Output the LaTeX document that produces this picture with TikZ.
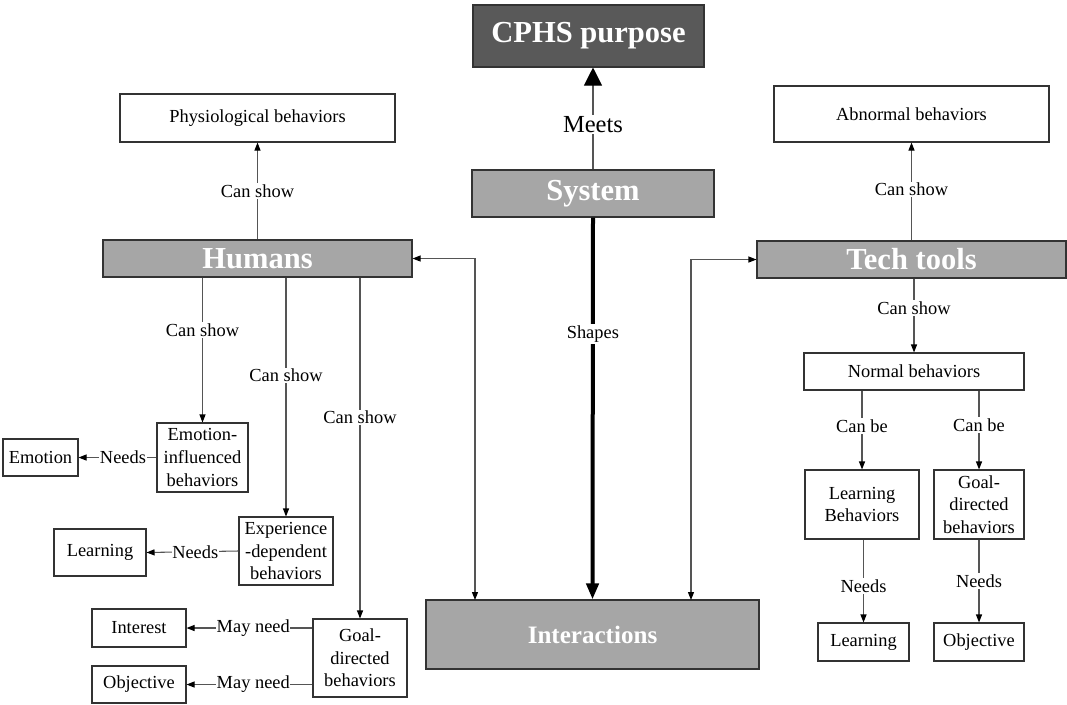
\documentclass[tikz,border=0pt]{standalone}
\usepackage{fontspec}
\setmainfont{Liberation Serif}
\usetikzlibrary{arrows.meta}
\definecolor{darkbox}{HTML}{595959}
\definecolor{midbox}{HTML}{A6A6A6}
\definecolor{edgecol}{HTML}{333333}
\definecolor{linecol}{HTML}{555555}
\begin{document}
\begin{tikzpicture}[x=0.75pt,y=-0.75pt,
  box/.style={draw=edgecol,line width=0.8pt,fill=white,inner sep=0pt,align=center,
    font=\fontsize{13.8pt}{16.9pt}\selectfont},
  bigbox/.style={draw=edgecol,line width=0.8pt,inner sep=0pt,align=center,text=white,
    font=\fontsize{22.9pt}{26pt}\selectfont\bfseries},
  lbl/.style={fill=white,inner sep=1pt,font=\fontsize{13.8pt}{16pt}\selectfont},
  arr/.style={draw=linecol,line width=0.8pt,-{Triangle[length=6pt,width=4.5pt,color=black]}},
  darr/.style={draw=linecol,line width=0.8pt,{Triangle[length=6pt,width=4.5pt,color=black]}-{Triangle[length=6pt,width=4.5pt,color=black]}}
]
\useasboundingbox (0,0) rectangle (1067,704);

% main boxes
\node[bigbox,fill=darkbox,minimum width=231*0.75pt,minimum height=62*0.75pt] (cphs) at (588.5,36) {CPHS purpose};
\node[bigbox,fill=midbox,minimum width=242*0.75pt,minimum height=47*0.75pt] (system) at (593,193.5) {System};
\node[bigbox,fill=midbox,minimum width=309*0.75pt,minimum height=37*0.75pt] (humans) at (257.5,258.5) {Humans};
\node[bigbox,fill=midbox,minimum width=309*0.75pt,minimum height=37*0.75pt] (tech) at (911.5,259.5) {Tech tools};
\node[bigbox,fill=midbox,minimum width=333*0.75pt,minimum height=69*0.75pt,font=\fontsize{18.8pt}{22pt}\selectfont\bfseries] (inter) at (592.5,634.5) {Interactions};

% white boxes
\node[box,minimum width=275*0.75pt,minimum height=48*0.75pt] (physio) at (257.5,118) {Physiological behaviors};
\node[box,minimum width=275*0.75pt,minimum height=56*0.75pt] (abn) at (911.5,114) {Abnormal behaviors};

\node[box,minimum width=91*0.75pt,minimum height=69*0.75pt] (emoinf) at (202.5,457.5) {Emotion-\\influenced\\behaviors};
\node[box,minimum width=75*0.75pt,minimum height=37*0.75pt] (emotion) at (40.5,457.5) {Emotion};
\node[box,minimum width=94*0.75pt,minimum height=68*0.75pt] (exper) at (286,551) {Experience\\-dependent\\behaviors};
\node[box,minimum width=92*0.75pt,minimum height=47*0.75pt] (learnL) at (100,552.5) {Learning};
\node[box,minimum width=94*0.75pt,minimum height=78*0.75pt] (goalL) at (360,658) {Goal-\\directed\\behaviors};
\node[box,minimum width=94*0.75pt,minimum height=38*0.75pt] (interest) at (139,628) {Interest};
\node[box,minimum width=94*0.75pt,minimum height=37*0.75pt] (objL) at (139,684.5) {Objective};

\node[box,minimum width=220*0.75pt,minimum height=37*0.75pt] (normal) at (914,371.5) {Normal behaviors};
\node[box,minimum width=114*0.75pt,minimum height=69*0.75pt] (learnB) at (862,504.5) {Learning\\Behaviors};
\node[box,minimum width=90*0.75pt,minimum height=69*0.75pt] (goalR) at (979,504.5) {Goal-\\directed\\behaviors};
\node[box,minimum width=91*0.75pt,minimum height=38*0.75pt] (learnR) at (863.5,642) {Learning};
\node[box,minimum width=90*0.75pt,minimum height=38*0.75pt] (objR) at (979,642) {Objective};

% connectors: centre
\draw[draw=linecol,line width=0.8pt,-{Triangle[length=13.5pt,width=13.5pt,color=black]}]
  (system.north) -- node[lbl,pos=0.44,font=\fontsize{18.4pt}{20pt}\selectfont]{Meets} (system.north |- cphs.south);
\draw[line width=3pt,-{Triangle[length=12pt,width=9pt]}]
  (system.south) -- node[lbl,pos=0.305]{Shapes} (inter.north);
\coordinate (lc) at (475,600);
\coordinate (rc) at (691,600);
\draw[darr] (humans.east) -| (lc);
\draw[darr] (tech.west) -| (rc);

% humans side
\draw[arr] (humans.north) -- node[lbl,midway]{Can show} (physio.south);
\draw[arr] (humans.south -| emoinf.north) -- node[lbl,pos=0.36]{Can show} (emoinf.north);
\draw[arr] (humans.south -| exper.north) -- node[lbl,pos=0.41]{Can show} (exper.north);
\draw[arr] (humans.south -| goalL.north) -- node[lbl,pos=0.41]{Can show} (goalL.north);
\draw[arr] (emoinf.west) -- node[lbl,pos=0.43,inner sep=0.5pt]{Needs} (emotion.east);
\draw[arr] (exper.west) -- node[lbl,pos=0.47,inner sep=0.5pt]{Needs} (learnL.east);
\draw[arr] (goalL.west |- interest) -- node[lbl,pos=0.47,inner sep=0.5pt]{May need} (interest.east);
\draw[arr] (goalL.west |- objL) -- node[lbl,pos=0.47,inner sep=0.5pt]{May need} (objL.east);

% tech side
\draw[arr] (tech.north -| abn.south) -- node[lbl,pos=0.52]{Can show} (abn.south);
\draw[arr] (tech.south -| normal.north) -- node[lbl,pos=0.4]{Can show} (normal.north);
\draw[arr] (normal.south -| learnB.north) -- node[lbl,pos=0.45]{Can be} (learnB.north);
\draw[arr] (normal.south -| goalR.north) -- node[lbl,pos=0.44]{Can be} (goalR.north);
\draw[arr] (learnB.south -| learnR.north) -- node[lbl,pos=0.56]{Needs} (learnR.north);
\draw[arr] (goalR.south) -- node[lbl,pos=0.5]{Needs} (objR.north);
\end{tikzpicture}
\end{document}
